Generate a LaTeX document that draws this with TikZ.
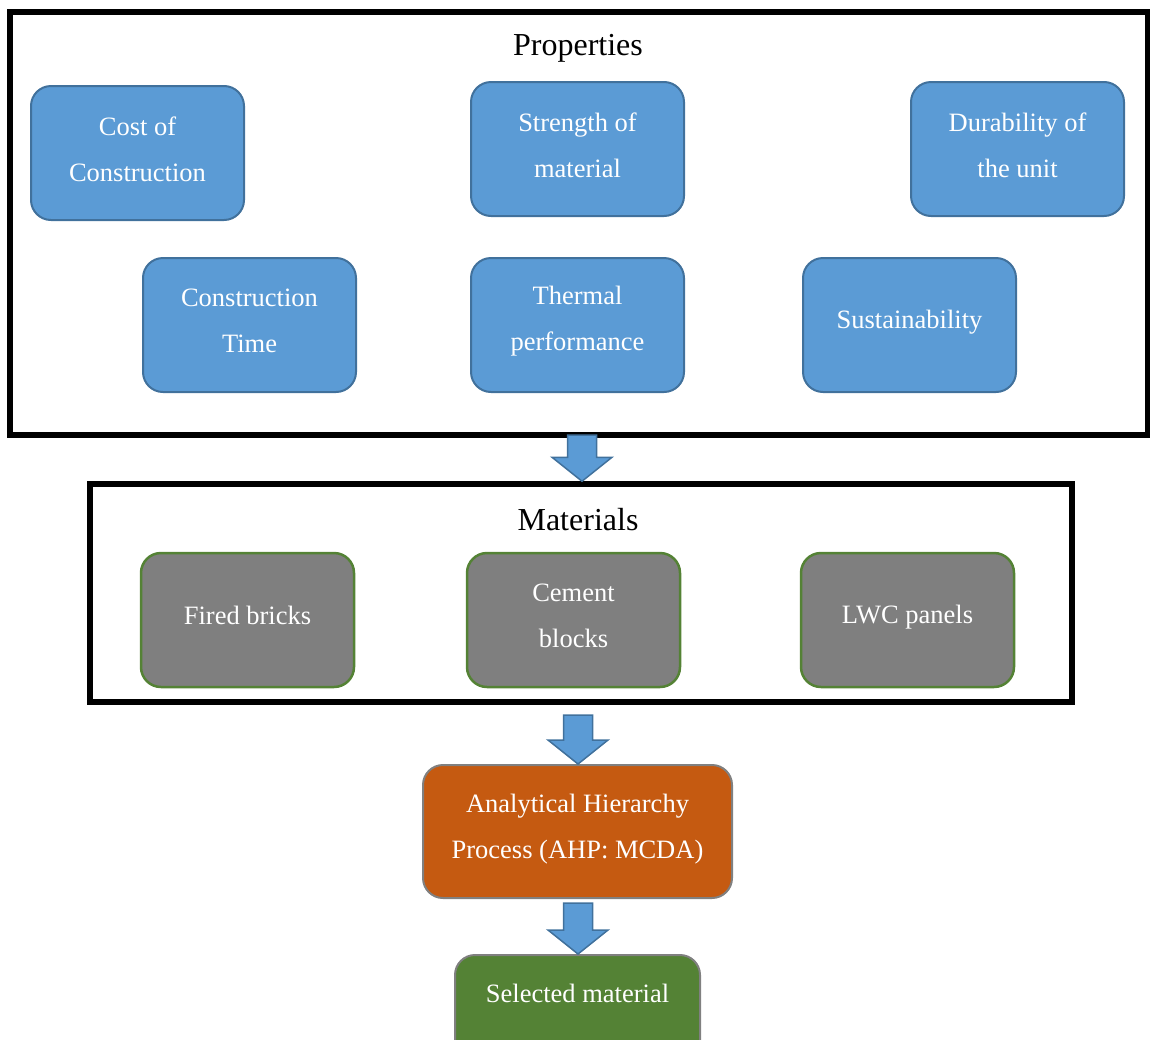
\documentclass[tikz,border=0pt]{standalone}
\usepackage{fontspec}
\setmainfont{Liberation Serif}
\usetikzlibrary{calc}
\definecolor{bfill}{HTML}{5B9BD5}
\definecolor{bline}{HTML}{41719C}
\definecolor{gfill}{HTML}{7F7F7F}
\definecolor{gline}{HTML}{548235}
\definecolor{ofill}{HTML}{C55A11}
\definecolor{sfill}{HTML}{548235}
\definecolor{eline}{HTML}{808080}
\tikzset{
  bigbox/.style={draw=black, line width=5.5pt, fill=none},
  card/.style={rounded corners=20pt, minimum width=213pt, minimum height=134pt, inner sep=0pt},
  cardtext/.style={text=white, align=center, inner sep=0pt, yshift=4pt,
    font=\fontsize{26.5}{46}\selectfont},
  propbox/.style={card, fill=bfill, draw=bline, line width=2pt},
  matbox/.style={card, fill=gfill, draw=gline, line width=2.5pt},
  ahpbox/.style={card, fill=ofill, draw=eline, line width=2pt, minimum width=309pt, minimum height=133pt},
  selbox/.style={card, fill=sfill, draw=eline, line width=2pt, minimum width=245pt},
  title/.style={font=\fontsize{32}{38}\selectfont, text=black},
  barrow/.style={fill=bfill, draw=bline, line width=1.5pt, line join=miter}
}
\newcommand\blockarrow[2]{%
  \draw[barrow] let \p1=#1, \p2=#2 in
    (\x1-14.5pt,\y1) -- (\x1+14.5pt,\y1) -- (\x1+14.5pt,\y2+24pt) -- (\x1+30pt,\y2+24pt)
    -- (\x1,\y2) -- (\x1-30pt,\y2+24pt) -- (\x1-14.5pt,\y2+24pt) -- cycle;}
\begin{document}
\begin{tikzpicture}[x=1pt,y=-1pt]
\useasboundingbox (0,0) rectangle (1150,1039);
\clip (0,0) rectangle (1150,1039);
% Properties frame
\node[bigbox, minimum width=1138pt, minimum height=423pt, inner sep=0pt] (props) at (579,223.5) {};
\node[title] (propt) at (578,48) {Properties};
\node[propbox, label={[cardtext]center:{Cost of\\Construction}}] (cost) at (137.5,153) {};
\node[propbox, label={[cardtext]center:{Strength of\\material}}] (str) at (577.5,149) {};
\node[propbox, label={[cardtext]center:{Durability of\\the unit}}] (dur) at (1017.5,149) {};
\node[propbox, label={[cardtext]center:{Construction\\Time}}] (ctime) at (249.5,325) {};
\node[propbox, label={[cardtext]center:{Thermal\\performance}}] (therm) at (577.5,325) {};
\node[propbox, label={[cardtext, yshift=-1pt]center:{Sustainability}}] (sust) at (909.5,325) {};
% Materials frame
\node[bigbox, minimum width=982pt, minimum height=218pt, inner sep=0pt] (mats) at (581,593) {};
\node[title] (matt) at (578,520) {Materials};
\node[matbox, label={[cardtext, yshift=1pt]center:{Fired bricks}}] (fired) at (247.5,620) {};
\node[matbox, label={[cardtext]center:{Cement\\blocks}}] (cement) at (573.5,620) {};
\node[matbox, label={[cardtext, yshift=-1pt]center:{LWC panels}}] (lwc) at (907.5,620) {};
% AHP and result
\node[ahpbox, label={[cardtext, yshift=-2pt]center:{Analytical Hierarchy\\Process (AHP: MCDA)}}] (ahp) at (577.5,831.5) {};
\node[selbox, anchor=north] (sel) at (577.5,954) {};
\node[cardtext, yshift=-4pt] (seltxt) at (577.5,993) {Selected material};
% block arrows
\coordinate (a1) at (582,435);
\coordinate (a2) at (578,715);
\coordinate (a3) at (578,903);
\blockarrow{(a1)}{(a1 |- mats.north)}
\blockarrow{(a2)}{(a2 |- ahp.north)}
\blockarrow{(a3)}{(a3 |- sel.north)}
\end{tikzpicture}
\end{document}
